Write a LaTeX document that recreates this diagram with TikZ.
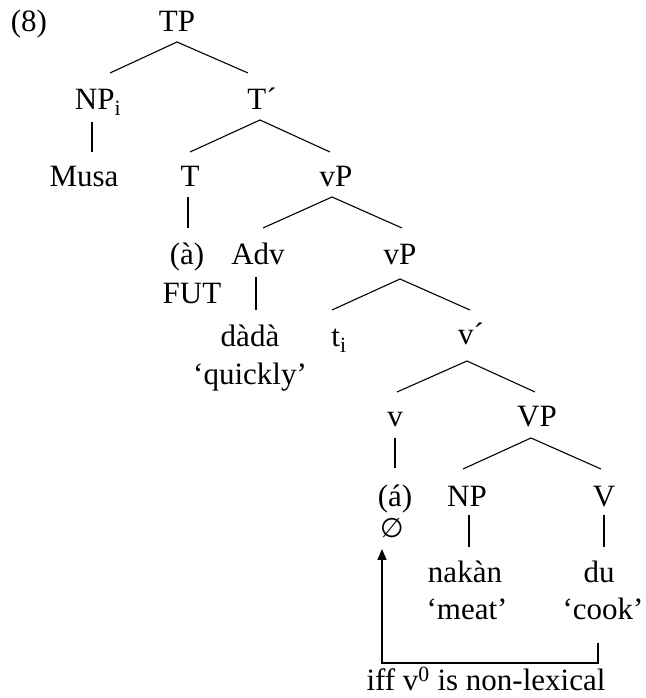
\documentclass[tikz,border=0pt]{standalone}
\usepackage{fontspec}
\setmainfont{Liberation Serif}
\newfontfamily\symfont{DejaVu Sans}
\usetikzlibrary{arrows.meta}
\tikzset{
  lab/.style={inner sep=0pt, anchor=base, font=\fontsize{31}{37}\selectfont},
  branch/.style={line width=1.1pt},
  movearrow/.style={line width=1.7pt, -{Triangle[length=11pt,width=9pt]}}
}
\begin{document}
\begin{tikzpicture}[x=1pt,y=1pt]
\useasboundingbox (0,0) rectangle (645,698);
% nodes
\node[lab] (ex) at (29,666) {(8)};
\node[lab] (TP) at (177,666) {TP};
\node[lab] (NPi) at (98,588) {NP\textsubscript{i}};
\node[lab] (Tb) at (262,588) {T´};
\node[lab] (Musa) at (84,511) {Musa};
\node[lab] (T) at (190,511) {T};
\node[lab] (vP1) at (336,511) {vP};
\node[lab] (a1) at (187,433) {(à)};
\node[lab] (FUT) at (192,394) {FUT};
\node[lab] (Adv) at (258,433) {Adv};
\node[lab] (vP2) at (400,433) {vP};
\node[lab] (dada) at (250,351) {dàdà};
\node[lab] (quickly) at (250,313) {‘quickly’};
\node[lab] (ti) at (339,351) {t\textsubscript{i}};
\node[lab] (vbar) at (471,353) {v´};
\node[lab] (v) at (395,271) {v};
\node[lab] (VP) at (537,271) {VP};
\node[lab] (a2) at (395,191) {(á)};
\node[lab, anchor=center, font=\fontsize{27}{32}\symfont] (empty) at (392,170) {∅};
\node[lab] (NP) at (467,191) {NP};
\node[lab] (V) at (604,191) {V};
\node[lab] (nakan) at (465,115) {nakàn};
\node[lab] (meat) at (467,78) {‘meat’};
\node[lab] (du) at (599,115) {du};
\node[lab] (cook) at (603,78) {‘cook’};
\node[lab] (iff) at (486,7) {iff v\textsuperscript{0} is non-lexical};
% branches
\draw[branch] ([yshift=-10pt]TP.base) -- ([xshift=12pt,yshift=37pt]NPi.base);
\draw[branch] ([yshift=-10pt]TP.base) -- ([xshift=-14pt,yshift=37pt]Tb.base);
\draw[branch] ([xshift=-6pt,yshift=-12pt]NPi.base) -- ([xshift=8pt,yshift=35pt]Musa.base);
\draw[branch] ([xshift=-2pt,yshift=-10pt]Tb.base) -- ([yshift=35pt]T.base);
\draw[branch] ([xshift=-2pt,yshift=-10pt]Tb.base) -- ([xshift=-6pt,yshift=35pt]vP1.base);
\draw[branch] ([xshift=-2pt,yshift=-10pt]T.base) -- ([xshift=1pt,yshift=37pt]a1.base);
\draw[branch] ([xshift=-4pt,yshift=-10pt]vP1.base) -- ([xshift=5pt,yshift=37pt]Adv.base);
\draw[branch] ([xshift=-4pt,yshift=-10pt]vP1.base) -- ([xshift=2pt,yshift=37pt]vP2.base);
\draw[branch] ([xshift=-2pt,yshift=-12pt]Adv.base) -- ([xshift=6pt,yshift=37pt]dada.base);
\draw[branch] ([yshift=-14pt]vP2.base) -- ([xshift=-7pt,yshift=37pt]ti.base);
\draw[branch] ([yshift=-14pt]vP2.base) -- ([xshift=-1pt,yshift=35pt]vbar.base);
\draw[branch] ([xshift=-4pt,yshift=-16pt]vbar.base) -- ([xshift=2pt,yshift=35pt]v.base);
\draw[branch] ([xshift=-4pt,yshift=-16pt]vbar.base) -- ([xshift=-2pt,yshift=35pt]VP.base);
\draw[branch] ([yshift=-11pt]v.base) -- ([yshift=39pt]a2.base);
\draw[branch] ([xshift=-6pt,yshift=-11pt]VP.base) -- ([xshift=-4pt,yshift=38pt]NP.base);
\draw[branch] ([xshift=-6pt,yshift=-11pt]VP.base) -- ([xshift=-3pt,yshift=38pt]V.base);
\draw[branch] ([xshift=2pt,yshift=-8pt]NP.base) -- ([xshift=4pt,yshift=36pt]nakan.base);
\draw[branch] ([yshift=-8pt]V.base) -- ([xshift=5pt,yshift=36pt]du.base);
% movement arrow
\coordinate (r) at (598,35);
\coordinate (l) at (382,35);
\draw[movearrow] ([xshift=-5pt,yshift=-23pt]cook.base) -- (r) -- (l) -- ([xshift=-10pt,yshift=-21pt]empty.center);
\end{tikzpicture}
\end{document}
